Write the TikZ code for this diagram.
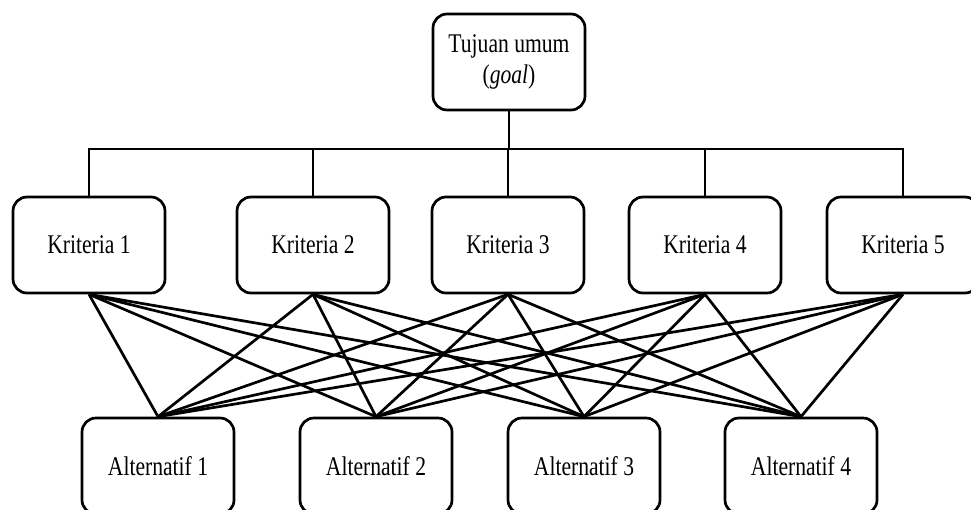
\documentclass[tikz,border=0pt]{standalone}
\usepackage{fontspec}
\setmainfont{Liberation Serif}[FakeStretch=0.8]
\begin{document}
\begin{tikzpicture}[x=1pt,y=-1pt,
  box/.style={draw,line width=2.7pt,rounded corners=14pt,minimum width=152pt,minimum height=96pt,inner sep=0pt,font=\fontsize{27}{31}\selectfont,align=center},
  conn/.style={line width=2.7pt}]
\useasboundingbox (0,0) rectangle (971,509);
\node[box] (goal) at (509,62) {Tujuan umum\\(\textit{goal})};
\node[box] (k1) at (89,245) {Kriteria 1};
\node[box] (k2) at (313,245) {Kriteria 2};
\node[box] (k3) at (508,245) {Kriteria 3};
\node[box] (k4) at (705,245) {Kriteria 4};
\node[box] (k5) at (903,245) {Kriteria 5};
\node[box] (a1) at (158,466) {Alternatif 1};
\node[box] (a2) at (376,466) {Alternatif 2};
\node[box] (a3) at (584,466) {Alternatif 3};
\node[box] (a4) at (801,466) {Alternatif 4};
\coordinate (bus) at (0,149);
\draw[conn] (k1.north) -- (k1.north |- bus) -- (k5.north |- bus) -- (k5.north);
\foreach \k in {k2,k3,k4} \draw[conn] (\k.north) -- (\k.north |- bus);
\draw[conn] (goal.south) -- (goal.south |- bus);
\foreach \k in {k1,k2,k3,k4,k5}
  \foreach \a in {a1,a2,a3,a4}
    \draw[conn] (\k.south) -- (\a.north);
\end{tikzpicture}
\end{document}
